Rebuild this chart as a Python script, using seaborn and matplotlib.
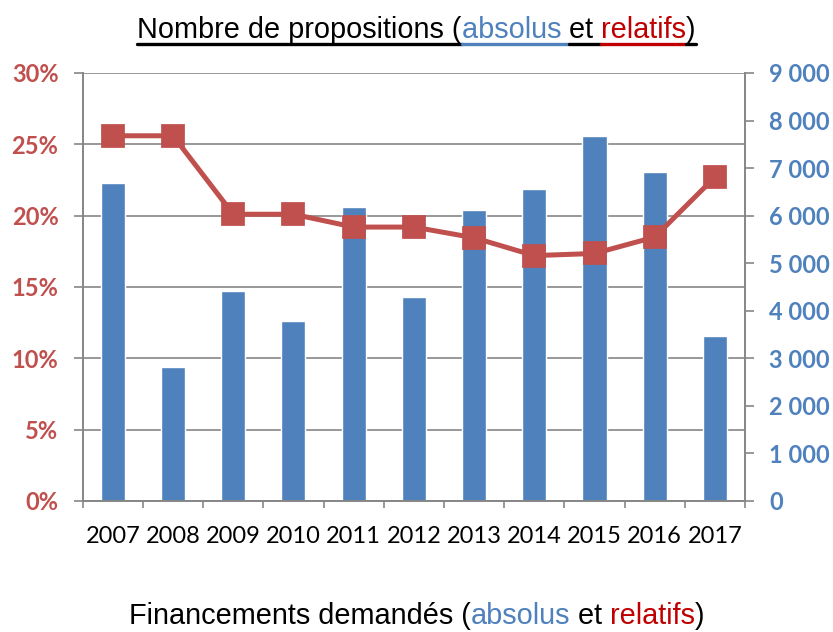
import matplotlib
matplotlib.use("Agg")
import matplotlib.pyplot as plt
import seaborn as sns
import pandas as pd
import numpy as np
from matplotlib.lines import Line2D

years = ["2007", "2008", "2009", "2010", "2011", "2012", "2013", "2014", "2015", "2016", "2017"]
absolus = [6680, 2820, 4410, 3780, 6180, 4280, 6110, 6560, 7680, 6910, 3460]
relatifs = [25.6, 25.6, 20.1, 20.1, 19.2, 19.2, 18.45, 17.2, 17.35, 18.5, 22.7]

pct_ticks = list(range(0, 31, 5))
abs_ticks = list(range(0, 9001, 1000))

blue = "#4F81BD"
red = "#C0504D"
title_red = "#C00000"
grey = "#868686"

sns.set_theme(style="white")
plt.rcParams["font.family"] = ["Lato", "DejaVu Sans"]

df = pd.DataFrame({"year": years, "absolus": absolus, "relatifs": relatifs})

fig = plt.figure(figsize=(8.33, 6.32), dpi=100)
ax = fig.add_axes([0.0993, 0.2073, 0.7951, 0.6772])

# bars (absolute numbers) -> right axis
sns.barplot(data=df, x="year", y="absolus", color=blue, width=0.4, saturation=1, ax=ax, zorder=2)
ax.set_ylim(0, 9000)
ax.set_xlabel("")
ax.set_ylabel("")

# line (relative) -> left axis, drawn on top
ax2 = ax.twinx()
sns.pointplot(data=df, x="year", y="relatifs", color=red, markers="s", linestyles="-",
              markersize=14, linewidth=3.6, ax=ax2)
ax2.set_ylim(0, 30)
ax2.set_ylabel("")
ax2.set_xlabel("")
ax2.grid(False)

# gridlines follow the percentage ticks, drawn behind the bars
scale = 9000 / 30
ax.hlines([p * scale for p in pct_ticks], -0.5, len(years) - 0.5, color=grey, linewidth=1.2, zorder=0)
ax.grid(False)

ax.yaxis.tick_right()
ax.set_yticks(abs_ticks)
ax.set_yticklabels([f"{v:,}".replace(",", " ") for v in abs_ticks])
ax.tick_params(axis="y", right=True, left=False, direction="out", length=6.5, width=1.2,
               color=grey, labelcolor=blue, labelsize=17, pad=11)
for lab in ax.get_yticklabels():
    lab.set_fontweight("bold")

ax2.yaxis.tick_left()
ax2.set_yticks(pct_ticks)
ax2.set_yticklabels([f"{v}%" for v in pct_ticks])
ax2.tick_params(axis="y", left=True, right=False, direction="out", length=6.5, width=1.2,
                color=grey, labelcolor=red, labelsize=17, pad=11)
for lab in ax2.get_yticklabels():
    lab.set_fontweight("bold")

for a in (ax, ax2):
    a.set_xlim(-0.5, len(years) - 0.5)
    for side in ["left", "right", "bottom"]:
        a.spines[side].set_color(grey)
        a.spines[side].set_linewidth(1.2)
    a.spines["top"].set_visible(False)

# x ticks: marks between categories, labels centred
ax.set_xticks(np.arange(-0.5, len(years), 1.0))
ax.set_xticklabels([])
ax.set_xticks(range(len(years)), minor=True)
ax.set_xticklabels(years, minor=True)
ax.tick_params(axis="x", which="major", bottom=True, direction="out", length=5, width=1.2, color=grey)
ax.tick_params(axis="x", which="minor", bottom=True, length=0, labelsize=17, labelcolor="black", pad=18)


def colored_line(parts, y, size, underline=False):
    renderer = fig.canvas.get_renderer()
    texts = []
    widths = []
    for s, c in parts:
        t = fig.text(0, y, s, color=c, fontsize=size, family="Liberation Sans", va="baseline", ha="left")
        bb = t.get_window_extent(renderer)
        texts.append(t)
        widths.append(bb.width)
    total = sum(widths)
    x = (fig.bbox.width - total) / 2
    for t, w, (s, c) in zip(texts, widths, parts):
        t.set_x(x / fig.bbox.width)
        if underline:
            yl = y - 0.01
            fig.add_artist(Line2D([x / fig.bbox.width, (x + w) / fig.bbox.width], [yl, yl],
                                  color=c, linewidth=2.4, transform=fig.transFigure))
        x += w


colored_line([("Nombre de propositions (", "black"), ("absolus ", blue), ("et ", "black"),
              ("relatifs", title_red), (")", "black")], 0.94, 20.8, underline=True)
colored_line([("Financements demandés (", "black"), ("absolus", blue), (" et ", "black"),
              ("relatifs", title_red), (")", "black")], 0.012, 20.8)

fig.savefig("out.png", dpi=100)
